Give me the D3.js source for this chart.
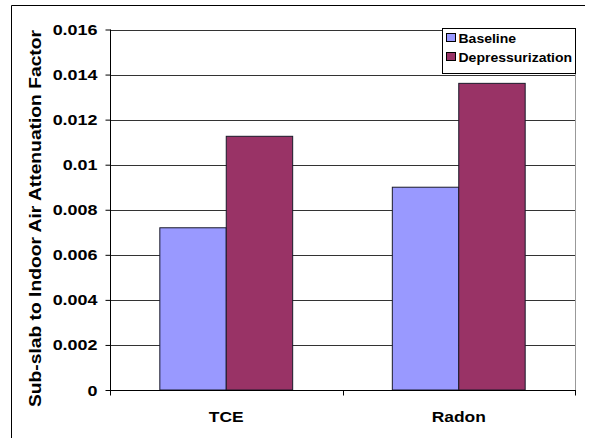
<!DOCTYPE html>
<html>
<head>
<meta charset="utf-8">
<script src="https://cdn.jsdelivr.net/npm/d3@7"></script>
<style>
  html, body { margin: 0; padding: 0; background: #fff; }
  svg { display: block; font-family: Arial, "Liberation Sans", sans-serif; }
</style>
</head>
<body>
<svg id="chart" width="590" height="438"></svg>
<script>
// Attenuation factors, sub-slab to indoor air
const categories = ["TCE", "Radon"];
const seriesNames = ["Baseline", "Depressurization"];
const baselineValues = [0.0072, 0.0090];
const depressurizationValues = [0.01126, 0.01361];
const yTicks = [0, 0.002, 0.004, 0.006, 0.008, 0.01, 0.012, 0.014, 0.016];
const yTickLabels = ["0", "0.002", "0.004", "0.006", "0.008", "0.01", "0.012", "0.014", "0.016"];
const colors = ["#9999FF", "#993366"];

const FONT = "Arial, 'Liberation Sans', sans-serif";
const svg = d3.select("#chart");
const plot = { left: 110, right: 575, top: 29.5, bottom: 390 };

// Widen text horizontally by a factor (chart text is drawn slightly stretched)
function widen(sel, factor) {
  sel.each(function () {
    const w = this.getComputedTextLength();
    d3.select(this).attr("textLength", w * factor).attr("lengthAdjust", "spacingAndGlyphs");
  });
}

// Outer chart frame (top and left edges)
svg.append("path")
  .attr("d", "M11.5,438 L11.5,5.5 L585,5.5")
  .attr("fill", "none").attr("stroke", "#000").attr("stroke-width", 1);

const x = d3.scaleBand().domain(categories).range([plot.left, plot.right]);
const x1 = d3.scaleBand().domain(seriesNames).range([0, x.bandwidth()]).paddingInner(0).paddingOuter(0.75);
const y = d3.scaleLinear().domain([0, 0.016]).range([plot.bottom, plot.top]);

// Horizontal gridlines
svg.append("g").selectAll("line").data(yTicks.slice(1)).join("line")
  .attr("x1", plot.left).attr("x2", plot.right)
  .attr("y1", d => Math.round(y(d)) + 0.5).attr("y2", d => Math.round(y(d)) + 0.5)
  .attr("stroke", "#333").attr("stroke-width", 1);

// Plot area right edge
svg.append("line")
  .attr("x1", plot.right + 0.5).attr("x2", plot.right + 0.5)
  .attr("y1", plot.top).attr("y2", plot.bottom)
  .attr("stroke", "#999");

// Bars
const series = [baselineValues, depressurizationValues];
const barData = [];
categories.forEach((c, i) => {
  seriesNames.forEach((s, j) => barData.push({ cat: c, ser: s, value: series[j][i], color: colors[j] }));
});
svg.append("g").selectAll("rect").data(barData).join("rect")
  .attr("x", d => x(d.cat) + x1(d.ser))
  .attr("y", d => y(d.value))
  .attr("width", x1.bandwidth())
  .attr("height", d => plot.bottom - y(d.value))
  .attr("fill", d => d.color)
  .attr("stroke", "#1a1a2a").attr("stroke-width", 1);

// Y axis
const yAxis = svg.append("g")
  .attr("transform", `translate(${plot.left + 0.5},0)`)
  .call(d3.axisLeft(y).tickValues(yTicks).tickSize(5).tickPadding(8)
    .tickFormat((d, i) => yTickLabels[i]));
yAxis.select(".domain").attr("stroke", "#000").attr("d", `M0,${plot.top}V${plot.bottom}`);
yAxis.selectAll(".tick line").attr("stroke", "#000");
yAxis.selectAll("text").attr("font-size", 14).attr("font-weight", "bold")
  .attr("font-family", FONT).attr("fill", "#000").attr("dy", "0.36em")
  .call(widen, 1.28);

// X axis
const xAxis = svg.append("g")
  .attr("transform", `translate(0,${plot.bottom + 0.5})`)
  .call(d3.axisBottom(x).tickSize(0).tickPadding(21));
xAxis.select(".domain").attr("stroke", "#000").attr("d", `M${plot.left},0H${plot.right + 1}`);
xAxis.selectAll("text").attr("font-size", 15).attr("font-weight", "bold")
  .attr("font-family", FONT).attr("fill", "#000")
  .call(widen, 1.16);
// Category boundary ticks
const bounds = [plot.left, plot.left + x.bandwidth(), plot.right];
xAxis.append("g").selectAll("line").data(bounds).join("line")
  .attr("x1", d => Math.round(d) + 0.5).attr("x2", d => Math.round(d) + 0.5)
  .attr("y1", 0).attr("y2", 5).attr("stroke", "#000");

// Y axis title
svg.append("text")
  .attr("transform", `translate(41,218.5) rotate(-90)`)
  .attr("text-anchor", "middle")
  .attr("font-size", 17).attr("font-weight", "bold").attr("font-family", FONT)
  .text("Sub-slab to Indoor Air Attenuation Factor")
  .attr("textLength", 377).attr("lengthAdjust", "spacingAndGlyphs");

// Legend
const legend = svg.append("g").attr("transform", "translate(442.5,28.5)");
legend.append("rect").attr("width", 133).attr("height", 45)
  .attr("fill", "#fff").attr("stroke", "#000");
seriesNames.forEach((s, i) => {
  const g = legend.append("g").attr("transform", `translate(4,${5 + i * 19})`);
  g.append("rect").attr("width", 9).attr("height", 8)
    .attr("fill", colors[i]).attr("stroke", "#000");
  g.append("text").attr("x", 12).attr("y", 9)
    .attr("font-size", 12.5).attr("font-weight", "bold").attr("font-family", FONT)
    .text(s)
    .call(widen, 1.12);
});
</script>
</body>
</html>
